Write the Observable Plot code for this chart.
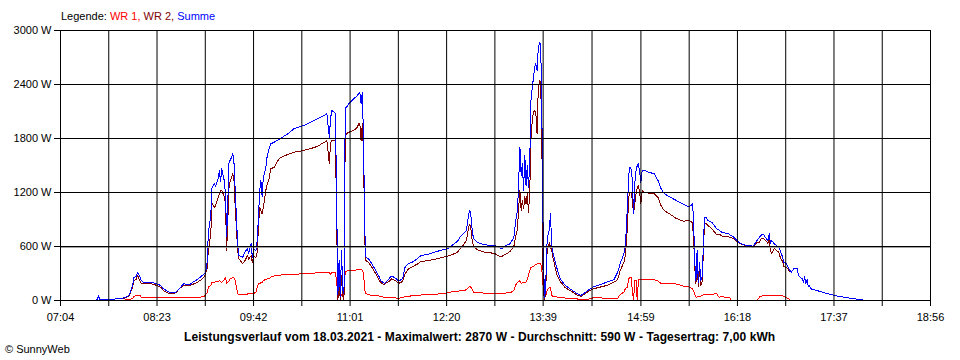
<!DOCTYPE html>
<html><head><meta charset="utf-8">
<script src="https://cdn.jsdelivr.net/npm/d3@7"></script>
<script src="https://cdn.jsdelivr.net/npm/@observablehq/plot@0.6"></script>
<style>
body{margin:0;background:#fff;font-family:"Liberation Sans",Arial,sans-serif;}
#wrap{position:relative;width:960px;height:360px;overflow:hidden;}
.t{position:absolute;white-space:nowrap;font-size:11px;line-height:11px;color:#000;}
#chart{position:absolute;left:0;top:0;}
</style></head><body>
<div id="wrap">
<div id="chart"></div>
<div class="t" style="left:61px;top:11px;">Legende: <span style="color:#ff0000">WR 1,</span> <span style="color:#800000">WR 2,</span> <span style="color:#0000ff">Summe</span></div>
<div class="t" id="cap" style="left:184px;top:331px;font-weight:bold;font-size:12px;line-height:12px;letter-spacing:0.08px;"></div>
<div class="t" style="left:5px;top:344px;">© SunnyWeb</div>
</div>
<script>
// ---- data ----
const dateLabel = "18.03.2021";
const maxValue = 2870;      // W
const avgValue = 590;       // W (Durchschnitt)
const dayYield = "7,00";    // kWh

const xTickLabels = ["07:04","08:23","09:42","11:01","12:20","13:39","14:59","16:18","17:37","18:56"];
const yTicks = [0, 600, 1200, 1800, 2400, 3000];

const times = [
"07:33","07:34","07:35","07:36","07:41","07:49","07:53","07:57","08:00","08:01",
"08:03","08:04","08:06","08:07","08:09","08:10","08:12","08:15","08:19","08:23",
"08:26","08:28","08:32","08:34","08:38","08:40","08:42","08:45","08:47","08:50",
"08:52","08:56","08:59","09:02","09:03","09:04","09:05","09:07","09:08","09:10",
"09:11","09:13","09:14","09:15","09:16","09:18","09:19","09:20","09:22","09:23",
"09:25","09:26","09:27","09:29","09:30","09:33","09:35","09:37","09:38","09:40",
"09:41","09:42","09:44","09:45","09:46","09:47","09:48","09:49","09:50","09:52",
"09:53","09:55","09:56","09:59","10:01","10:04","10:10","10:15","10:23","10:29",
"10:34","10:40","10:42","10:44","10:45","10:46","10:49","10:50","10:51","10:52",
"10:53","10:54","10:55","10:56","10:57","10:58","11:00","11:04","11:07","11:08",
"11:09","11:10","11:11","11:12","11:13","11:14","11:16","11:18","11:22","11:25",
"11:26","11:29","11:31","11:33","11:35","11:38","11:41","11:44","11:46","11:49",
"11:52","11:56","11:59","12:04","12:10","12:15","12:20","12:23","12:26","12:29",
"12:31","12:34","12:36","12:37","12:38","12:39","12:40","12:41","12:42","12:45",
"12:50","12:56","13:00","13:03","13:05","13:08","13:12","13:15","13:17","13:18",
"13:19","13:20","13:21","13:22","13:23","13:24","13:25","13:26","13:27","13:28",
"13:29","13:30","13:31","13:32","13:33","13:34","13:35","13:36","13:37","13:38",
"13:39","13:40","13:41","13:42","13:43","13:44","13:45","13:46","13:47","13:50",
"13:53","13:57","14:01","14:07","14:10","14:15","14:20","14:26","14:31","14:37",
"14:40","14:42","14:45","14:46","14:47","14:48","14:49","14:50","14:51","14:52",
"14:53","14:54","14:55","14:56","14:57","14:58","14:59","15:00","15:02","15:05",
"15:10","15:13","15:15","15:18","15:22","15:28","15:34","15:38","15:40","15:41",
"15:42","15:43","15:44","15:45","15:46","15:47","15:48","15:49","15:50","15:51",
"15:52","15:54","15:57","16:01","16:03","16:05","16:11","16:12","16:13","16:15",
"16:19","16:23","16:27","16:31","16:34","16:36","16:37","16:39","16:41","16:43",
"16:44","16:45","16:46","16:48","16:50","16:52","16:53","16:55","16:56","16:57",
"16:59","17:00","17:01","17:02","17:04","17:07","17:08","17:11","17:12","17:13",
"17:14","17:15","17:16","17:17","17:18","17:23","17:32","17:40","17:48","17:56",
"18:00","18:01"];

const summe = [
0,11,56,11,11,17,22,33,56,89,
167,256,267,311,267,222,203,203,203,183,
167,133,100,86,89,111,144,189,172,178,
200,233,267,300,333,422,756,944,1259,1300,
1267,1356,1444,1322,1463,1333,1189,711,1556,1556,
1633,1522,1222,611,500,478,537,578,522,633,
481,567,556,667,922,1222,1333,1156,1367,1478,
1589,1700,1741,1759,1778,1800,1852,1908,1944,1981,
2019,2056,2074,1814,2022,2111,2081,1100,60,444,
44,556,111,78,2133,2148,2185,2241,2278,2297,
2315,2185,2315,1797,778,481,463,426,333,259,
222,189,214,244,272,250,214,244,370,411,
426,463,500,511,537,556,574,592,630,659,
703,744,778,856,956,1000,922,778,686,648,
622,611,611,586,574,611,630,703,926,1000,
1333,1703,1389,1522,1222,1611,1278,1500,1259,1522,
2222,2356,2467,2592,2630,2556,2800,2870,2852,2000,
722,37,111,611,733,778,963,611,533,370,
241,167,130,74,56,106,150,178,203,233,
314,408,519,592,778,1056,1389,1481,1463,1333,
963,1300,1444,1500,1519,1422,1311,1444,1444,1426,
1408,1333,1256,1189,1156,1111,1067,1044,1056,1074,
944,444,222,556,200,422,222,259,556,926,
926,889,870,797,783,759,741,728,719,703,
648,619,611,603,667,700,722,741,697,667,
741,633,667,630,611,592,556,481,422,422,
389,356,333,314,352,352,278,241,200,267,
186,233,156,167,130,111,74,48,30,14,
8,0];

const wr2 = [
0,11,44,11,11,17,22,28,50,78,
144,222,233,278,222,189,189,192,183,167,
148,111,81,74,83,111,139,167,161,167,
178,203,230,267,311,350,556,744,1078,1033,
1056,1144,1185,1222,1222,1156,1074,560,1278,1333,
1408,1333,1037,556,463,411,444,500,456,500,
420,489,481,540,811,1033,1000,960,1033,1222,
1278,1370,1463,1481,1537,1589,1622,1648,1667,1689,
1711,1759,1778,1519,1756,1778,1778,900,0,222,
0,278,56,0,1833,1852,1870,1889,1926,1963,
1963,1778,1963,1633,667,444,422,389,297,222,
200,172,200,210,241,222,192,211,297,356,
375,405,433,441,456,474,489,500,519,537,
574,622,667,730,820,850,780,660,600,565,
540,530,517,494,489,511,545,600,740,800,
1037,1222,1000,1111,1020,1156,1074,1189,980,1189,
1778,1980,2090,2111,2089,1852,2356,2444,2426,1667,
167,0,67,500,600,640,592,556,478,297,
211,144,111,60,44,92,130,150,167,203,
233,333,422,481,611,833,1150,1203,1203,1111,
963,1080,1185,1256,1278,1190,1080,1222,1203,1194,
1185,1144,1067,1000,967,911,881,889,878,867,
722,389,185,444,160,333,170,200,490,852,
860,830,800,730,739,717,706,700,697,690,
641,617,606,592,650,648,683,694,667,633,
689,556,522,578,556,533,481,430,378,370,
356,333,320,314,352,352,278,241,200,267,
186,233,156,167,130,111,74,48,30,14,
8,0];

const wr1 = [
0,0,0,0,0,0,0,6,6,11,
22,44,56,61,56,37,33,30,30,30,
30,30,30,30,30,30,30,33,33,33,
33,37,39,50,67,89,148,167,203,200,
211,211,222,211,200,233,259,186,222,244,
252,250,222,74,67,67,67,72,74,74,
78,78,92,144,186,186,200,203,222,233,
241,244,259,272,278,283,289,292,297,300,
308,311,314,311,289,311,314,200,60,56,
44,67,67,74,322,326,333,333,341,341,
341,341,339,300,111,74,67,56,56,50,
44,37,37,37,33,28,26,33,41,48,
52,56,61,64,70,74,83,92,100,103,
108,111,119,133,144,156,144,122,89,86,
83,81,81,81,81,83,86,111,186,200,
211,222,189,200,203,200,203,233,278,333,
370,374,378,389,400,406,411,414,414,333,
148,37,44,100,133,139,141,56,44,39,
33,28,22,17,8,11,30,30,19,19,
22,67,92,122,139,148,241,256,259,111,
0,222,222,0,230,230,230,230,230,233,
230,217,194,189,186,183,159,152,141,133,
111,67,37,39,39,44,50,56,61,67,
67,67,70,74,37,42,33,30,0,0,
0,0,0,0,0,37,47,52,52,52,
52,52,52,52,52,52,52,50,44,37,
26,22,0,0,0,0,0,0,0,0,
0,0,0,0,0,0,0,0,0,0,
0,0];

// ---- build ----
const toMin = s => { const [h, m] = s.split(":").map(Number); return h * 60 + m; };
const data = times.map((t, i) => ({t: toMin(t), wr1: wr1[i], wr2: wr2[i], summe: summe[i]}));

const labelMins = xTickLabels.map(toMin);
const gridMins = [];
labelMins.forEach((m, i) => {
  gridMins.push(m);
  if (i < labelMins.length - 1) gridMins.push((m + labelMins[i + 1]) / 2);
});
const labelOf = new Map(labelMins.map((m, i) => [m, xTickLabels[i]]));

document.getElementById("cap").textContent =
  `Leistungsverlauf vom ${dateLabel} - Maximalwert: ${maxValue} W - Durchschnitt: ${avgValue} W - Tagesertrag: ${dayYield} kWh`;

const lineOpts = {strokeWidth: 1, style: "shape-rendering:crispEdges"};
const chart = Plot.plot({
  width: 960,
  height: 360,
  marginTop: 30,
  marginBottom: 60,
  marginLeft: 60,
  marginRight: 30,
  style: {fontFamily: "'Liberation Sans', Arial, sans-serif", fontSize: "11px", color: "#000", background: "transparent", overflow: "visible"},
  x: {domain: [labelMins[0], labelMins[labelMins.length - 1]], axis: null},
  y: {domain: [0, 3000], axis: null},
  marks: [
    Plot.line(data, {x: "t", y: "wr1", stroke: "#ff0000", strokeWidth: 1}),
    Plot.line(data, {x: "t", y: "wr2", stroke: "#800000", strokeWidth: 1}),
    Plot.line(data, {x: "t", y: "summe", stroke: "#0000ff", strokeWidth: 1}),
    Plot.ruleY([avgValue], {stroke: "#999999"}),
    Plot.ruleY(yTicks, {stroke: "#000"}),
    Plot.ruleX(gridMins, {stroke: "#000"}),
    Plot.axisY(yTicks, {tickSize: 6, tickPadding: 3, tickFormat: d => `${d} W`, label: null, fontSize: 11}),
    Plot.axisX(gridMins, {tickSize: 6, tickPadding: 7, tickFormat: d => labelOf.get(d) ?? "", label: null, fontSize: 11})
  ]
});
chart.querySelectorAll("g[aria-label='line'] path").forEach(p => p.setAttribute("shape-rendering", "crispEdges"));
document.getElementById("chart").appendChild(chart);
</script>
</body></html>
